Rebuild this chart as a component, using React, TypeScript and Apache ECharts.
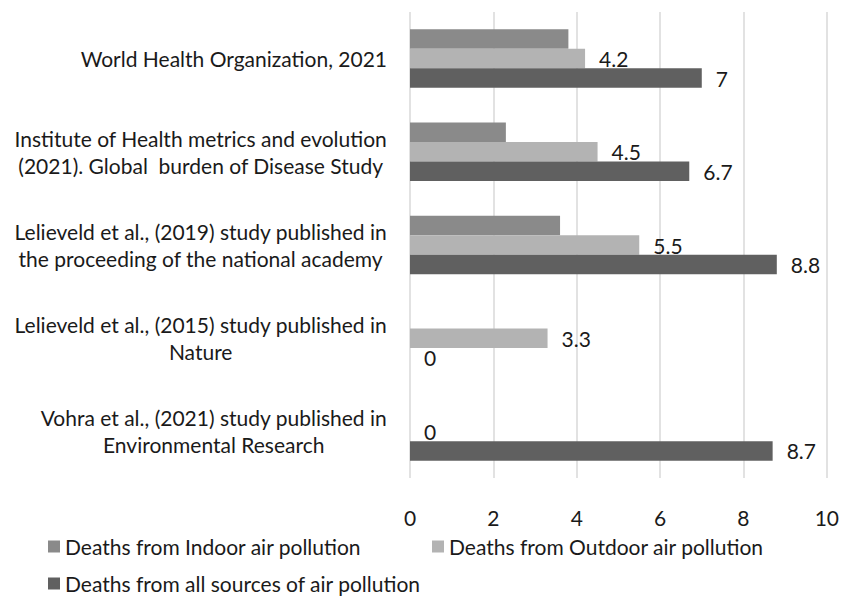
import React, { useEffect, useRef } from "react";
import * as echarts from "echarts";

const categories = [
  "World Health Organization, 2021",
  "Institute of Health metrics and evolution\n(2021). Global  burden of Disease Study",
  "Lelieveld et al., (2019) study published in\nthe proceeding of the national academy",
  "Lelieveld et al., (2015) study published in\nNature",
  "Vohra et al., (2021) study published in\nEnvironmental Research",
];
const seriesNames = [
  "Deaths from Indoor air pollution",
  "Deaths from Outdoor air pollution",
  "Deaths from all sources of air pollution",
];
const indoor: (number | null)[] = [3.8, 2.3, 3.6, null, null];
const outdoor: (number | null)[] = [4.2, 4.5, 5.5, 3.3, 0];
const allSources: (number | null)[] = [7, 6.7, 8.8, 0, 8.7];
const xTicks = { min: 0, max: 10, interval: 2 };
const colors = ["#8a8a8a", "#b3b3b3", "#606060"];

const FONT = "Lato, 'Open Sans', sans-serif";
const FS = 21;
const TXT = "#1a1a1a";

export default function App() {
  const ref = useRef<HTMLDivElement>(null);
  useEffect(() => {
    if (!ref.current) return;
    const chart = echarts.init(ref.current, null, { renderer: "svg" });
    const label = {
      show: true,
      position: "right",
      distance: 14,
      fontSize: FS,
      fontFamily: FONT,
      color: TXT,
    };
    const legendText = { fontSize: FS, color: TXT, fontFamily: FONT };
    const legendBase = {
      itemWidth: 12,
      itemHeight: 12,
      itemGap: 6,
      padding: 0,
      icon: "rect",
      textStyle: legendText,
    };
    chart.setOption({
      animation: false,
      backgroundColor: "#ffffff",
      textStyle: { fontFamily: FONT },
      grid: { left: 410, right: 14, top: 12, bottom: 120 },
      legend: [
        { ...legendBase, data: [seriesNames[0]], left: 48, top: 536 },
        { ...legendBase, data: [seriesNames[1]], left: 432, top: 536 },
        { ...legendBase, data: [seriesNames[2]], left: 48, top: 573 },
      ],
      xAxis: {
        type: "value",
        min: xTicks.min,
        max: xTicks.max,
        interval: xTicks.interval,
        axisLine: { show: false },
        axisTick: { show: false },
        axisLabel: { fontSize: FS, color: TXT, margin: 29, fontFamily: FONT },
        splitLine: { lineStyle: { color: "#d9d9d9", width: 1.5 } },
      },
      yAxis: {
        type: "category",
        inverse: true,
        data: categories,
        axisLine: { show: false },
        axisTick: { show: false },
        axisLabel: {
          fontSize: FS,
          color: TXT,
          margin: 23,
          lineHeight: 27,
          align: "right",
          fontFamily: FONT,
          formatter: (v: string) =>
            v
              .split("\n")
              .map((l) => `{c|${l}}`)
              .join("\n"),
          rich: {
            c: {
              align: "center",
              fontSize: FS,
              lineHeight: 27,
              color: TXT,
              fontFamily: FONT,
            },
          },
        },
      },
      series: [
        {
          name: seriesNames[0],
          type: "bar",
          data: indoor,
          barWidth: 19.5,
          barGap: "0%",
          itemStyle: { color: colors[0] },
          label: { show: false },
        },
        {
          name: seriesNames[1],
          type: "bar",
          data: outdoor,
          barWidth: 19.5,
          barGap: "0%",
          itemStyle: { color: colors[1] },
          label,
        },
        {
          name: seriesNames[2],
          type: "bar",
          data: allSources,
          barWidth: 19.5,
          barGap: "0%",
          itemStyle: { color: colors[2] },
          label,
        },
      ],
    });
    return () => chart.dispose();
  }, []);
  return (
    <div
      ref={ref}
      style={{ position: "fixed", left: 0, top: 0, width: 842, height: 598, background: "#fff" }}
    />
  );
}
